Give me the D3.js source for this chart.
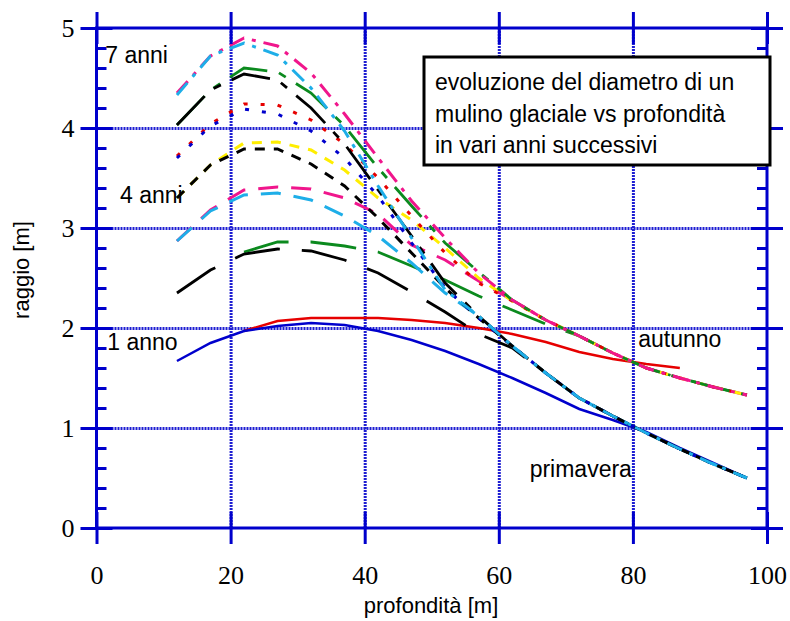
<!DOCTYPE html>
<html>
<head>
<meta charset="utf-8">
<script src="https://cdn.jsdelivr.net/npm/d3@7"></script>
<style>
  body { margin: 0; background: #fff; }
  svg { display: block; font-family: "Liberation Sans", Arial, sans-serif; }
</style>
</head>
<body>
<svg id="chart" width="790" height="621"></svg>
<script>
// profondità dei punti misurati [m]
const depth = [12, 17, 22, 27, 32, 37, 42, 47, 52, 57, 62, 67, 72, 77, 82, 87, 92, 97];

// raggio [m] per ogni anno, primavera e autunno (null = punto non misurato)
const anno1Primavera = [1.67, 1.85, 1.97, 2.02, 2.05, 2.03, 1.97, 1.88, 1.77, 1.64, 1.50, 1.35, 1.19, 1.08, 0.96, 0.80, 0.65, 0.50];
const anno1Autunno   = [null, null, 1.97, 2.07, 2.10, 2.10, 2.10, 2.08, 2.05, 2.00, 1.94, 1.86, 1.76, 1.69, 1.64, 1.60, null, null];
const anno2Primavera = [2.35, 2.58, 2.74, 2.79, 2.77, 2.68, 2.55, 2.36, 2.16, 1.94, 1.80, 1.55, 1.30, 1.12, 0.95, 0.79, 0.64, 0.50];
const anno2Autunno   = [null, null, 2.76, 2.86, 2.86, 2.82, 2.76, 2.62, 2.48, 2.32, 2.18, 2.04, 1.92, 1.75, 1.60, 1.50, 1.41, 1.33];
const anno3Primavera = [2.87, 3.17, 3.33, 3.35, 3.28, 3.12, 2.92, 2.65, 2.35, 2.12, 1.82, 1.55, 1.30, 1.12, 0.95, 0.79, 0.64, 0.50];
const anno3Autunno   = [2.87, 3.18, 3.38, 3.41, 3.39, 3.30, 3.14, 2.83, 2.68, 2.47, 2.28, 2.08, 1.92, 1.75, 1.60, 1.50, 1.41, 1.33];
const anno4Primavera = [3.30, 3.63, 3.79, 3.79, 3.64, 3.42, 3.10, 2.75, 2.40, 2.10, 1.82, 1.55, 1.30, 1.12, 0.95, 0.79, 0.64, 0.50];
const anno4Autunno   = [3.30, 3.63, 3.85, 3.86, 3.78, 3.58, 3.30, 3.08, 2.80, 2.50, 2.27, 2.08, 1.92, 1.75, 1.60, 1.50, 1.41, 1.33];
const anno5Primavera = [3.70, 4.02, 4.19, 4.14, 3.97, 3.70, 3.32, 2.85, 2.40, 2.10, 1.82, 1.55, 1.30, 1.12, 0.95, 0.79, 0.64, 0.50];
const anno5Autunno   = [3.72, 4.04, 4.24, 4.23, 4.08, 3.84, 3.50, 3.12, 2.75, 2.45, 2.27, 2.08, 1.92, 1.75, 1.60, 1.50, 1.41, 1.33];
const anno6Primavera = [4.03, 4.38, 4.54, 4.48, 4.20, 3.84, 3.38, 2.92, 2.45, 2.12, 1.82, 1.55, 1.30, 1.12, 0.95, 0.79, 0.64, 0.50];
const anno6Autunno   = [4.03, 4.38, 4.60, 4.56, 4.35, 4.02, 3.60, 3.22, 2.85, 2.56, 2.28, 2.08, 1.92, 1.75, 1.60, 1.50, 1.41, 1.33];
const anno7Primavera = [4.33, 4.72, 4.85, 4.73, 4.40, 3.97, 3.42, 2.90, 2.38, 2.12, 1.82, 1.55, 1.30, 1.12, 0.95, 0.79, 0.64, 0.50];
const anno7Autunno   = [4.35, 4.72, 4.90, 4.82, 4.55, 4.14, 3.70, 3.27, 2.90, 2.55, 2.28, 2.08, 1.92, 1.75, 1.60, 1.50, 1.41, 1.33];

// assi
const xTicks = [0, 20, 40, 60, 80, 100];
const yTicks = [0, 1, 2, 3, 4, 5];
const yMinorTicks = d3.range(0, 5.01, 0.2);
const gridX = [20, 40, 60, 80];
const gridY = [1, 2, 3, 4];

const legendLines = ["evoluzione del diametro di un", "mulino glaciale vs profondità", "in vari anni successivi"];

const svg = d3.select("#chart");
const axisBlue = "#0000cc";

const x = d3.scaleLinear().domain([0, 100]).range([96.5, 767]);
const y = d3.scaleLinear().domain([0, 5]).range([528, 28]);

// grid (dotted blue)
const grid = svg.append("g");
grid.append("g")
  .attr("transform", `translate(0,${y(0)})`)
  .call(d3.axisBottom(x).tickValues(gridX).tickSize(-(y(0) - y(5))).tickFormat(""))
  .call(g => g.select(".domain").remove());
grid.append("g")
  .attr("transform", `translate(${x(0)},0)`)
  .call(d3.axisLeft(y).tickValues(gridY).tickSize(-(x(100) - x(0))).tickFormat(""))
  .call(g => g.select(".domain").remove());
grid.selectAll("line")
  .attr("stroke", "#1e1ed2")
  .attr("stroke-width", 3)
  .attr("stroke-dasharray", "2,1");

// curves
const styleFor = {
  1: { spring: "#0000cc", autumn: "#e60000", dash: null, w: 2.5 },
  2: { spring: "#000000", autumn: "#0b8a1e", dash: "46,22", w: 2.8 },
  3: { spring: "#1eaee8", autumn: "#f0168c", dash: "20,13", w: 3 },
  4: { spring: "#000000", autumn: "#ffee00", dash: "10,9", w: 3 },
  5: { spring: "#0000cc", autumn: "#e60000", dash: "4,13", w: 3 },
  6: { spring: "#000000", autumn: "#0b8a1e", dash: "40,12,8,12", w: 2.8 },
  7: { spring: "#1eaee8", autumn: "#f0168c", dash: "16,8,4,8", w: 3 }
};
const years = [
  [1, anno1Primavera, anno1Autunno],
  [2, anno2Primavera, anno2Autunno],
  [3, anno3Primavera, anno3Autunno],
  [4, anno4Primavera, anno4Autunno],
  [5, anno5Primavera, anno5Autunno],
  [6, anno6Primavera, anno6Autunno],
  [7, anno7Primavera, anno7Autunno]
];

const line = d3.line()
  .defined(d => d[1] != null)
  .x(d => x(d[0]))
  .y(d => y(d[1]));

const curves = svg.append("g").attr("fill", "none");
years.forEach(([yr, spring, autumn]) => {
  const s = styleFor[yr];
  [[autumn, s.autumn], [spring, s.spring]].forEach(([vals, col]) => {
    curves.append("path")
      .datum(depth.map((d, i) => [d, vals[i]]))
      .attr("d", line)
      .attr("stroke", col)
      .attr("stroke-width", s.w)
      .attr("stroke-dasharray", s.dash);
  });
});

// frame + ticks
const axes = svg.append("g");
axes.append("rect")
  .attr("x", x(0)).attr("y", y(5))
  .attr("width", x(100) - x(0)).attr("height", y(0) - y(5))
  .attr("fill", "none").attr("stroke", axisBlue).attr("stroke-width", 3);

const axLeft = axes.append("g")
  .attr("transform", `translate(${x(0)},0)`)
  .call(d3.axisLeft(y).tickValues(yTicks).tickSize(16).tickFormat(d3.format("d")));
axLeft.selectAll(".tick text").attr("x", -22);

const axRight = axes.append("g")
  .attr("transform", `translate(${x(100)},0)`)
  .call(d3.axisRight(y).tickValues(yTicks).tickSize(16).tickFormat(""));

const axBottom = axes.append("g")
  .attr("transform", `translate(0,${y(0)})`)
  .call(d3.axisBottom(x).tickValues(xTicks).tickSize(16).tickFormat(d3.format("d")));
axBottom.selectAll(".tick text").attr("y", 38);

const axTop = axes.append("g")
  .attr("transform", `translate(0,${y(5)})`)
  .call(d3.axisTop(x).tickValues(xTicks).tickSize(16).tickFormat(""));

// major ticks cross the frame
axLeft.selectAll(".tick line").attr("x1", -16).attr("x2", 16);
axRight.selectAll(".tick line").attr("x1", -16).attr("x2", 16);
axBottom.selectAll(".tick line").attr("y1", -16).attr("y2", 16);
axTop.selectAll(".tick line").attr("y1", -16).attr("y2", 16);

// minor ticks inward on left and right
axes.append("g")
  .attr("transform", `translate(${x(0)},0)`)
  .call(d3.axisRight(y).tickValues(yMinorTicks).tickSize(10).tickFormat(""));
axes.append("g")
  .attr("transform", `translate(${x(100)},0)`)
  .call(d3.axisLeft(y).tickValues(yMinorTicks).tickSize(10).tickFormat(""));

axes.selectAll(".domain").remove();
axes.selectAll(".tick line").attr("stroke", axisBlue).attr("stroke-width", 3);
axes.selectAll(".tick text")
  .attr("fill", "#000")
  .style("font-family", "'Liberation Serif', 'Times New Roman', serif")
  .style("font-size", "26px");

// axis titles
svg.append("text")
  .attr("x", 431).attr("y", 613)
  .attr("text-anchor", "middle")
  .style("font-size", "22px")
  .text("profondità [m]");
svg.append("text")
  .attr("transform", "translate(29,270) rotate(-90)")
  .attr("text-anchor", "middle")
  .style("font-size", "22px")
  .text("raggio [m]");

// annotations
const notes = svg.append("g").style("font-size", "23px");
notes.append("text").attr("x", x(1.3)).attr("y", y(4.65)).text("7 anni");
notes.append("text").attr("x", x(3.5)).attr("y", y(3.25)).text("4 anni");
notes.append("text").attr("x", x(1.6)).attr("y", y(1.78)).text("1 anno");
notes.append("text").attr("x", x(80.8)).attr("y", y(1.81)).text("autunno");
notes.append("text").attr("x", x(64.6)).attr("y", y(0.51)).text("primavera");

// legend box
const box = svg.append("g");
box.append("rect")
  .attr("x", 424).attr("y", 57)
  .attr("width", 346).attr("height", 108)
  .attr("fill", "#fff").attr("stroke", "#000").attr("stroke-width", 3);
box.selectAll("text")
  .data(legendLines)
  .join("text")
  .attr("x", 435)
  .attr("y", (d, i) => 90 + i * 31.5)
  .style("font-size", "23px")
  .text(d => d);
</script>
</body>
</html>
